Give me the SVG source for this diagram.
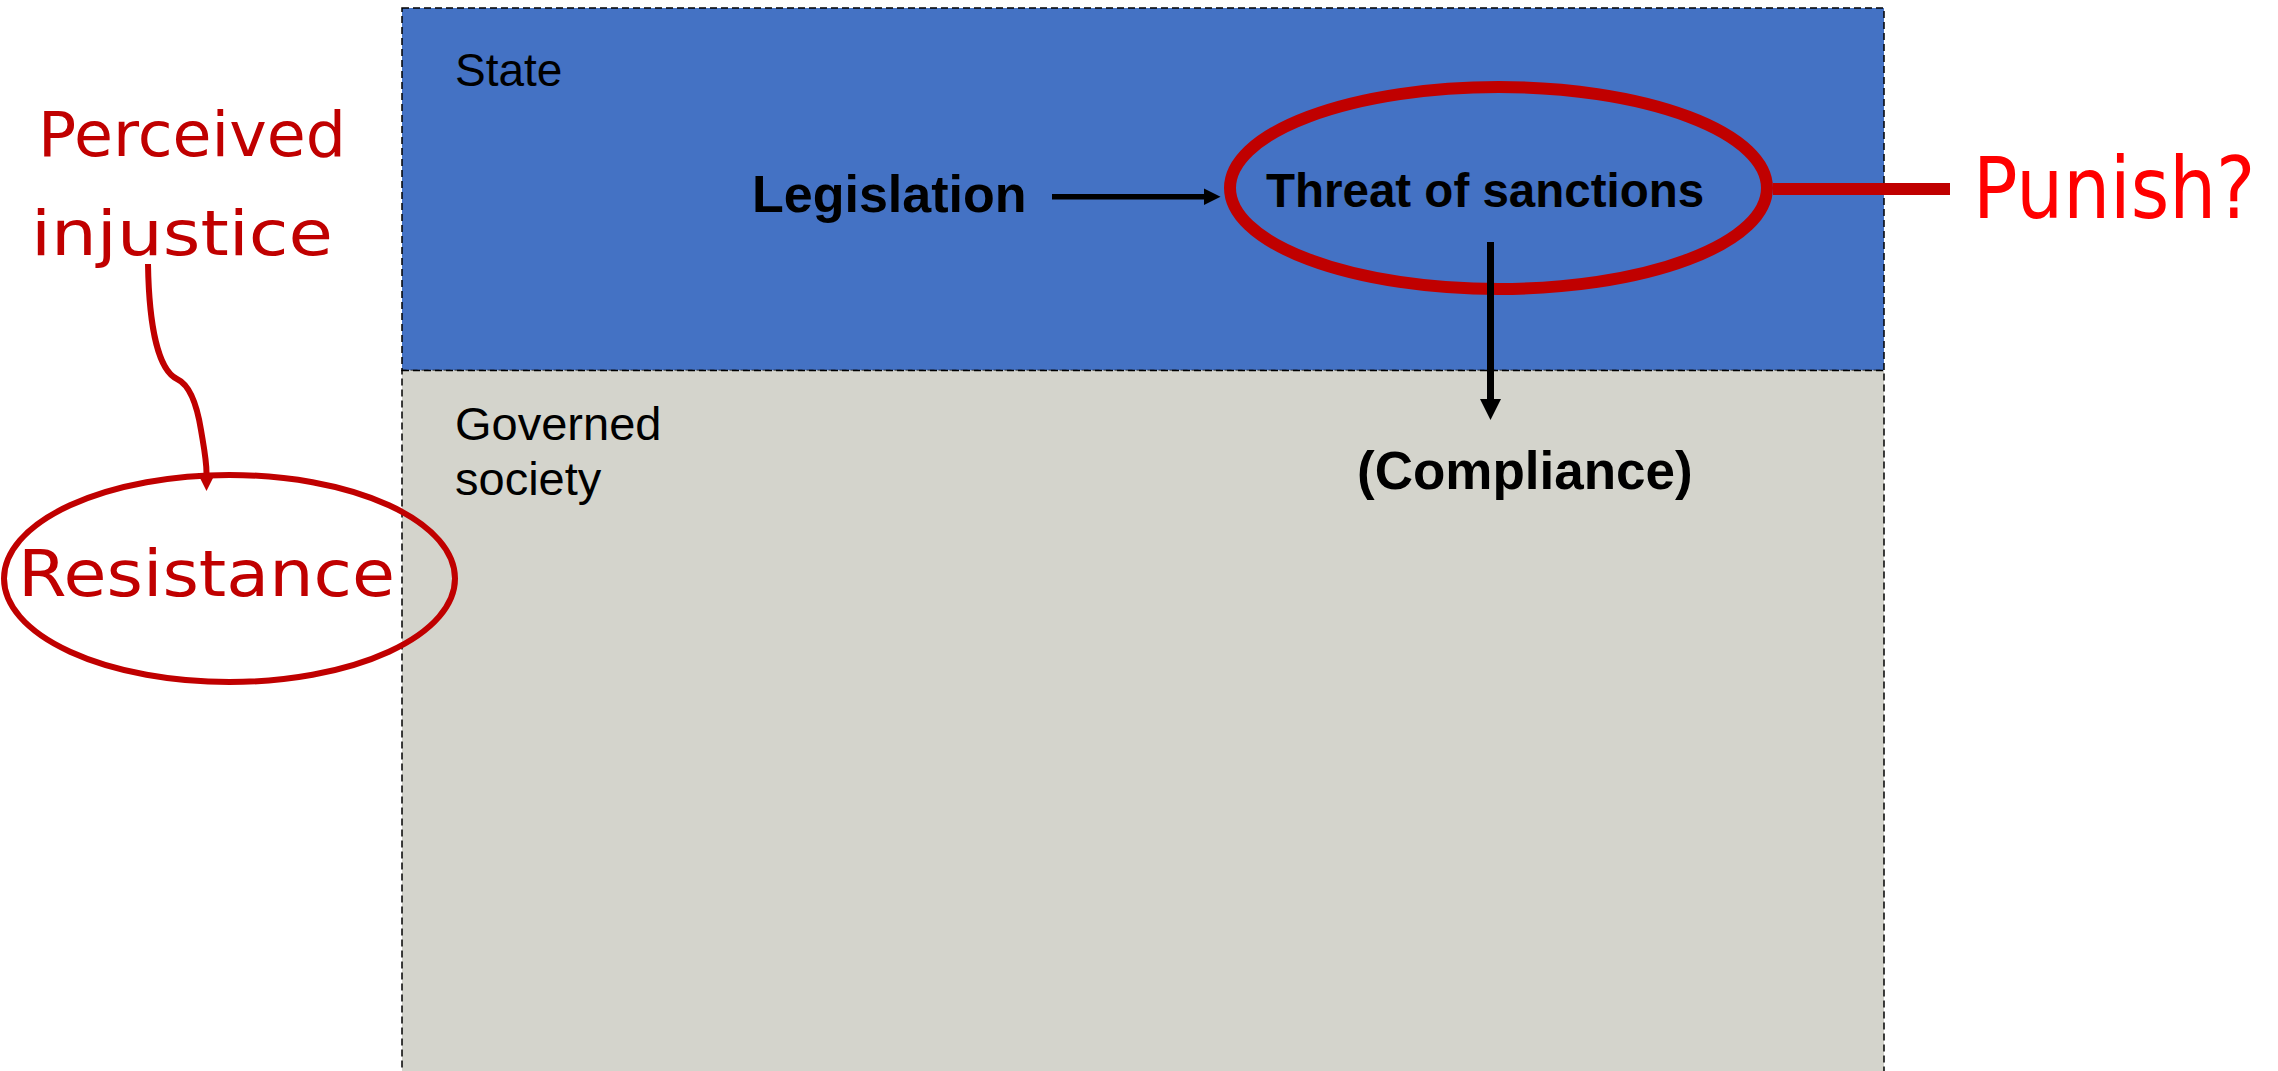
<svg xmlns="http://www.w3.org/2000/svg" width="2278" height="1071" viewBox="0 0 2278 1071">
<style>
.lbl{font-family:"Liberation Sans",Arial,sans-serif;fill:#000}
.b{font-weight:bold}
.hand{font-family:"DejaVu Sans","Liberation Sans",sans-serif;fill:#C00000}
.panel{stroke:#000;stroke-width:1.5;stroke-dasharray:7 4}
.ring{fill:none;stroke:#C00000}
</style>
<defs>
<marker id="ahK" viewBox="0 0 10 10" refX="0" refY="5" markerWidth="3.3" markerHeight="3" orient="auto" markerUnits="strokeWidth"><path d="M0,0 L10,5 L0,10 z" fill="#000"/></marker>
<marker id="ahR" viewBox="0 0 10 10" refX="0" refY="5" markerWidth="3.3" markerHeight="3" orient="auto" markerUnits="strokeWidth"><path d="M0,0 L10,5 L0,10 z" fill="#C00000"/></marker>
</defs>
<rect width="2278" height="1071" fill="#fff"/>
<g id="state">
<rect class="panel" x="402" y="8" width="1482" height="362.5" fill="#4472C4"/>
<text class="lbl" x="455" y="86" font-size="46">State</text>
</g>
<g id="society">
<rect class="panel" x="402" y="370.5" width="1482" height="720" fill="#D4D4CC"/>
<text class="lbl" x="455" y="440" font-size="47">Governed</text>
<text class="lbl" x="455" y="495" font-size="47">society</text>
</g>
<g id="legislation">
<text class="lbl b" x="752" y="212" font-size="52">Legislation</text>
</g>
<g id="threat">
<ellipse class="ring" cx="1498.5" cy="188" rx="268.5" ry="101" stroke-width="12"/>
<text class="lbl b" x="1266" y="207" font-size="47.5">Threat of sanctions</text>
</g>
<g id="compliance">
<text class="lbl b" x="1357" y="489" font-size="53">(Compliance)</text>
</g>
<g id="punish">
<text transform="translate(1973,218) scale(1,1.15)" x="0" y="0" font-size="74" font-family="DejaVu Sans, Liberation Sans, sans-serif" fill="#FF0000">Punish?</text>
</g>
<g id="perceived">
<text class="hand" x="38" y="156" font-size="62" textLength="308" lengthAdjust="spacingAndGlyphs">Perceived</text>
<text class="hand" x="31" y="255" font-size="62" textLength="302" lengthAdjust="spacingAndGlyphs">injustice</text>
</g>
<g id="resistance">
<ellipse class="ring" cx="229.5" cy="578.5" rx="225.5" ry="103.5" stroke-width="6"/>
<text class="hand" x="18" y="596" font-size="64" textLength="377" lengthAdjust="spacingAndGlyphs">Resistance</text>
</g>
<g id="connectors">
<line x1="1052" y1="196.7" x2="1204" y2="196.7" stroke="#000" stroke-width="5.5" marker-end="url(#ahK)"/>
<line x1="1490.5" y1="242" x2="1490.5" y2="399" stroke="#000" stroke-width="7" marker-end="url(#ahK)"/>
<path d="M148,264 C149,325 158,370 177,379 C190,385 197,405 201,430 C204,448 206.5,460 206.5,473" fill="none" stroke="#C00000" stroke-width="6" marker-end="url(#ahR)"/>
<line x1="1773" y1="189" x2="1950" y2="189" stroke="#C00000" stroke-width="12"/>
</g>
</svg>
